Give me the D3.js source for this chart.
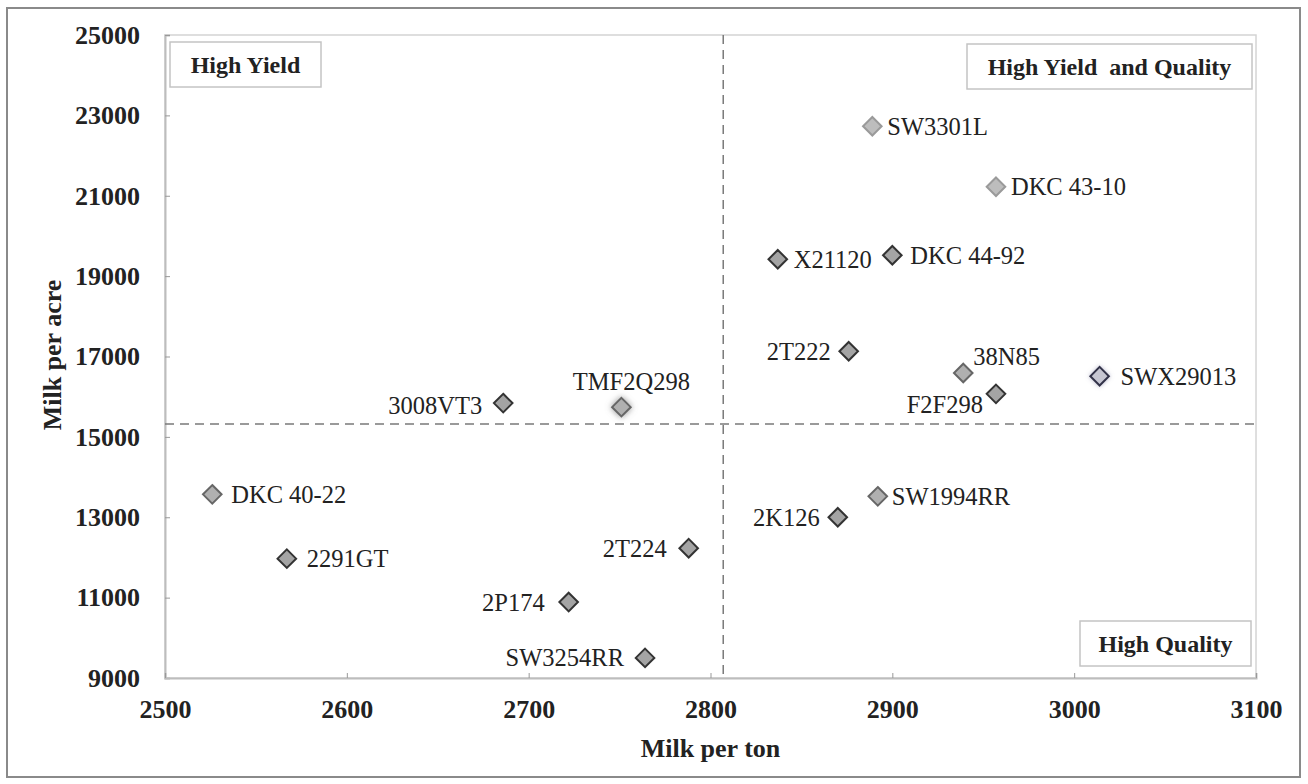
<!DOCTYPE html>
<html>
<head>
<meta charset="utf-8">
<script src="https://cdn.jsdelivr.net/npm/d3@7"></script>
<style>
  html, body { margin: 0; padding: 0; background: #fff; }
  svg { display: block; }
  text { font-family: "Liberation Serif", "Times New Roman", serif; fill: #222; }
</style>
</head>
<body>
<svg id="chart" width="1308" height="784"></svg>
<script>
// ---- data ----
const hybrids = ["SW3301L","DKC 43-10","X21120","DKC 44-92","2T222","38N85","F2F298","SWX29013",
                 "SW1994RR","2K126","3008VT3","TMF2Q298","DKC 40-22","2291GT","2T224","2P174","SW3254RR"];
const milkPerTon  = [2889, 2957, 2837, 2900, 2876, 2939, 2957, 3014,
                     2892, 2870, 2686, 2751, 2526, 2567, 2788, 2722, 2764];
const milkPerAcre = [22730, 21225, 19420, 19520, 17130, 16590, 16070, 16510,
                     13520, 13000, 15840, 15740, 13570, 11970, 12230, 10890, 9500];
const xTicks = [2500, 2600, 2700, 2800, 2900, 3000, 3100];
const yTicks = [9000, 11000, 13000, 15000, 17000, 19000, 21000, 23000, 25000];
const quadrantLabels = ["High Yield", "High Yield  and Quality", "High Quality"];
const meanTon = 2807;
const meanAcre = 15320;

// ---- layout / styles ----
const FONT = "Liberation Serif, Times New Roman, serif";
const svg = d3.select("#chart");
const L = 165, R = 1256, T = 35, B = 678;
const x = d3.scaleLinear().domain([2500, 3100]).range([L, R]);
const y = d3.scaleLinear().domain([9000, 25000]).range([B, T]);

// outer frame
svg.append("rect").attr("x", 7).attr("y", 8).attr("width", 1293).attr("height", 769)
  .attr("fill", "#fff").attr("stroke", "#8a8a8a").attr("stroke-width", 2);

// plot border (top/right light)
svg.append("rect").attr("x", L).attr("y", T).attr("width", R - L).attr("height", B - T)
  .attr("fill", "none").attr("stroke", "#d4d4d4").attr("stroke-width", 1.5);

const defs = svg.append("defs");
function makeGlow(id, dev, color, op) {
  const f = defs.append("filter").attr("id", id).attr("x", "-80%").attr("y", "-80%").attr("width", "260%").attr("height", "260%");
  f.append("feGaussianBlur").attr("in", "SourceAlpha").attr("stdDeviation", dev).attr("result", "b");
  f.append("feFlood").attr("flood-color", color).attr("flood-opacity", op).attr("result", "c");
  f.append("feComposite").attr("in", "c").attr("in2", "b").attr("operator", "in").attr("result", "s");
  const m = f.append("feMerge");
  m.append("feMergeNode").attr("in", "s");
  m.append("feMergeNode").attr("in", "SourceGraphic");
}
makeGlow("glow", 3, "#777", 0.8);
makeGlow("glow2", 2, "#8888aa", 0.6);

// axes
const yAxis = svg.append("g").attr("transform", `translate(${L},0)`)
  .call(d3.axisLeft(y).tickValues(yTicks).tickSize(-5).tickPadding(25).tickFormat(d3.format("d")));
const xAxis = svg.append("g").attr("transform", `translate(0,${B})`)
  .call(d3.axisBottom(x).tickValues(xTicks).tickSize(-5).tickPadding(22).tickFormat(d3.format("d")));
[yAxis, xAxis].forEach(g => {
  g.attr("font-family", FONT);
  g.select(".domain").attr("stroke", "#bdbdbd").attr("stroke-width", 2);
  g.selectAll(".tick line").attr("stroke", "#999").attr("stroke-width", 1);
  g.selectAll(".tick text").attr("font-family", FONT)
    .attr("font-size", 26).attr("font-weight", "bold").attr("fill", "#222");
});

// axis titles
svg.append("text").attr("x", (L + R) / 2).attr("y", 757).attr("text-anchor", "middle")
  .attr("font-family", FONT).attr("font-size", 26).attr("font-weight", "bold").text("Milk per ton");
svg.append("text").attr("transform", "translate(61,355) rotate(-90)").attr("text-anchor", "middle")
  .attr("font-family", FONT).attr("font-size", 26).attr("font-weight", "bold").text("Milk per acre");

// mean dashed lines
svg.append("line").attr("x1", L).attr("x2", R).attr("y1", y(meanAcre)).attr("y2", y(meanAcre))
  .attr("stroke", "#7a7a7a").attr("stroke-width", 1.5).attr("stroke-dasharray", "9,6");
svg.append("line").attr("x1", x(meanTon)).attr("x2", x(meanTon)).attr("y1", T).attr("y2", B)
  .attr("stroke", "#7a7a7a").attr("stroke-width", 1.5).attr("stroke-dasharray", "9,6");

// quadrant label boxes
const boxes = [
  { x0: 170, y0: 42, x1: 321, y1: 87 },
  { x0: 967, y0: 44, x1: 1252, y1: 89 },
  { x0: 1080, y0: 621, x1: 1251, y1: 666 }
];
quadrantLabels.forEach((lab, i) => {
  const b = boxes[i];
  svg.append("rect").attr("x", b.x0).attr("y", b.y0).attr("width", b.x1 - b.x0).attr("height", b.y1 - b.y0)
    .attr("fill", "#fff").attr("stroke", "#c4c4c4").attr("stroke-width", 1.5);
  svg.append("text").attr("x", (b.x0 + b.x1) / 2).attr("y", (b.y0 + b.y1) / 2 + 8)
    .attr("text-anchor", "middle").attr("font-family", FONT).attr("font-size", 24).attr("font-weight", "bold")
    .style("white-space", "pre").text(lab);
});

// marker styles & label placements (presentation only)
const shade = {
  light: { fill: "#bdbdbd", stroke: "#9a9a9a" },
  mid:   { fill: "#b0b0b0", stroke: "#666" },
  dark:  { fill: "#a4a4a4", stroke: "#333" },
  blue:  { fill: "#c6c6d2", stroke: "#333348" }
};
const markerShade = {
  "SW3301L": "light", "DKC 43-10": "light", "38N85": "mid", "DKC 40-22": "mid", "SW1994RR": "mid",
  "TMF2Q298": "mid", "SWX29013": "blue"
};
const place = {
  "SW3301L": [15, 0, "start"], "DKC 43-10": [15, 0, "start"], "X21120": [16, 0, "start"],
  "DKC 44-92": [18, 0, "start"], "2T222": [-18, 0, "end"], "38N85": [10, -17, "start"],
  "F2F298": [-13, 11, "end"], "SWX29013": [21, 0, "start"], "SW1994RR": [14, 0, "start"],
  "2K126": [-18, 0, "end"], "3008VT3": [-21, 2, "end"], "TMF2Q298": [10, -26, "middle"],
  "DKC 40-22": [19, 0, "start"], "2291GT": [20, 0, "start"], "2T224": [-22, 0, "end"],
  "2P174": [-24, 0, "end"], "SW3254RR": [-21, 0, "end"]
};

const pts = hybrids.map((h, i) => ({ name: h, tx: milkPerTon[i], ac: milkPerAcre[i] }));
const diamond = d3.symbol().type(d3.symbolDiamond2).size(220);
const sh = d => shade[markerShade[d.name] || "dark"];

svg.append("g").selectAll("path").data(pts).join("path")
  .attr("d", diamond)
  .attr("transform", d => `translate(${x(d.tx)},${y(d.ac)})`)
  .attr("fill", d => sh(d).fill)
  .attr("stroke", d => sh(d).stroke)
  .attr("stroke-width", 2)
  .attr("filter", d => d.name === "TMF2Q298" ? "url(#glow)" : (d.name === "SWX29013" ? "url(#glow2)" : null));

svg.append("g").attr("font-family", FONT).selectAll("text").data(pts).join("text")
  .attr("x", d => x(d.tx) + place[d.name][0])
  .attr("y", d => y(d.ac) + place[d.name][1])
  .attr("dy", "0.35em")
  .attr("text-anchor", d => place[d.name][2])
  .attr("font-family", FONT)
  .attr("font-size", 24.5).attr("fill", "#2a2a2a")
  .text(d => d.name);
</script>
</body>
</html>
